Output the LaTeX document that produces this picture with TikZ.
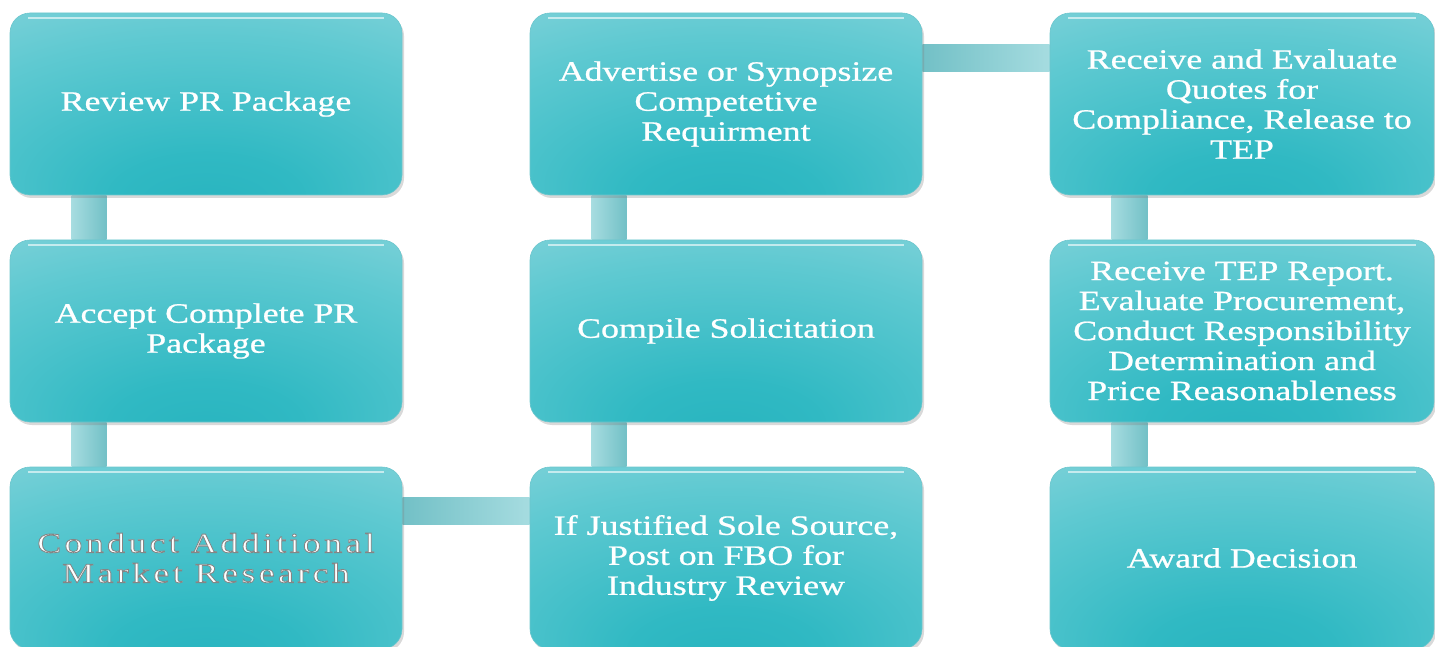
\documentclass[tikz,border=0pt]{standalone}
\usepackage{fontspec}
\setmainfont{Liberation Serif}[FakeStretch=1.28, FakeBold=0.8]
\newfontfamily\spacedfont{Liberation Serif}[FakeStretch=1.28, LetterSpace=12, FakeBold=3]
\newcommand{\outlinetext}[1]{{\spacedfont\special{pdf:bcolor [1 1 1] [0.52 0.52 0.52]}#1\special{pdf:ecolor}}}
\usetikzlibrary{shadows}
\pgfdeclarelayer{background}
\pgfsetlayers{background,main}
\definecolor{tealdark}{HTML}{28B4BF}
\definecolor{tealdeep}{HTML}{30B9C3}
\definecolor{tealmid}{HTML}{5EC9D1}
\definecolor{teallight}{HTML}{96D8DF}
\definecolor{tealpale}{HTML}{B5E4E9}
\definecolor{barlight}{HTML}{A6DCE0}
\definecolor{bardark}{HTML}{72C0C6}
\definecolor{boxedge}{HTML}{6CC6CD}
\pgfdeclareradialshading{boxshade}{\pgfpoint{0bp}{-30bp}}{color(0bp)=(tealdark); color(12bp)=(tealdeep); color(36bp)=(tealmid); color(60bp)=(teallight); color(88bp)=(tealpale)}
\begin{document}
\begin{tikzpicture}[x=1pt,y=-1pt,
  box/.style={shape=rectangle, rounded corners=20pt, minimum width=392pt,
    minimum height=182pt, inner sep=0pt, shade, shading=boxshade,
    draw=boxedge, line width=0.6pt,
    drop shadow={shadow xshift=2pt, shadow yshift=-3pt, opacity=0.3},
    text=white, align=center, font=\fontsize{28}{30}\selectfont,
    path picture={\draw[white, opacity=0.6, line width=1.6pt]
      ([xshift=18pt,yshift=-5pt]path picture bounding box.north west) --
      ([xshift=-18pt,yshift=-5pt]path picture bounding box.north east);}},
  narrowbox/.style={minimum width=384pt},
  vbar/.style={left color=barlight, right color=bardark, draw=none},
  hbar/.style={left color=bardark, right color=barlight, draw=none}]
\useasboundingbox (0,0) rectangle (1435,647);

\node[box] (r1c1) at (206,104) {Review PR Package};
\node[box] (r2c1) at (206,331) {Accept Complete PR\\Package};
\node[box] (r3c1) at (206,558) {\outlinetext{Conduct Additional}\\\outlinetext{Market Research}};

\node[box] (r1c2) at (726,104) {Advertise or Synopsize\\Competetive\\Requirment};
\node[box] (r2c2) at (726,331) {Compile Solicitation};
\node[box] (r3c2) at (726,558) {If Justified Sole Source,\\Post on FBO for\\Industry Review};

\node[box, narrowbox] (r1c3) at (1242,104) {Receive and Evaluate\\Quotes for\\Compliance, Release to\\TEP};
\node[box, narrowbox] (r2c3) at (1242,331) {Receive TEP Report.\\Evaluate Procurement,\\Conduct Responsibility\\Determination and\\Price Reasonableness};
\node[box, narrowbox] (r3c3) at (1242,558) {Award Decision};

\begin{pgfonlayer}{background}
\path[vbar] ([xshift=62pt]r1c1.south west) rectangle ([xshift=97pt]r2c1.north west);
\path[vbar] ([xshift=62pt]r2c1.south west) rectangle ([xshift=97pt]r3c1.north west);
\path[hbar] ([yshift=-31pt]r3c1.north east) rectangle ([yshift=-58pt]r3c2.north west);
\path[vbar] ([xshift=62pt]r2c2.south west) rectangle ([xshift=97pt]r3c2.north west);
\path[vbar] ([xshift=62pt]r1c2.south west) rectangle ([xshift=97pt]r2c2.north west);
\path[hbar] ([yshift=-32pt]r1c2.north east) rectangle ([yshift=-59pt]r1c3.north west);
\path[vbar] ([xshift=62pt]r1c3.south west) rectangle ([xshift=98pt]r2c3.north west);
\path[vbar] ([xshift=62pt]r2c3.south west) rectangle ([xshift=98pt]r3c3.north west);
\end{pgfonlayer}
\end{tikzpicture}
\end{document}
